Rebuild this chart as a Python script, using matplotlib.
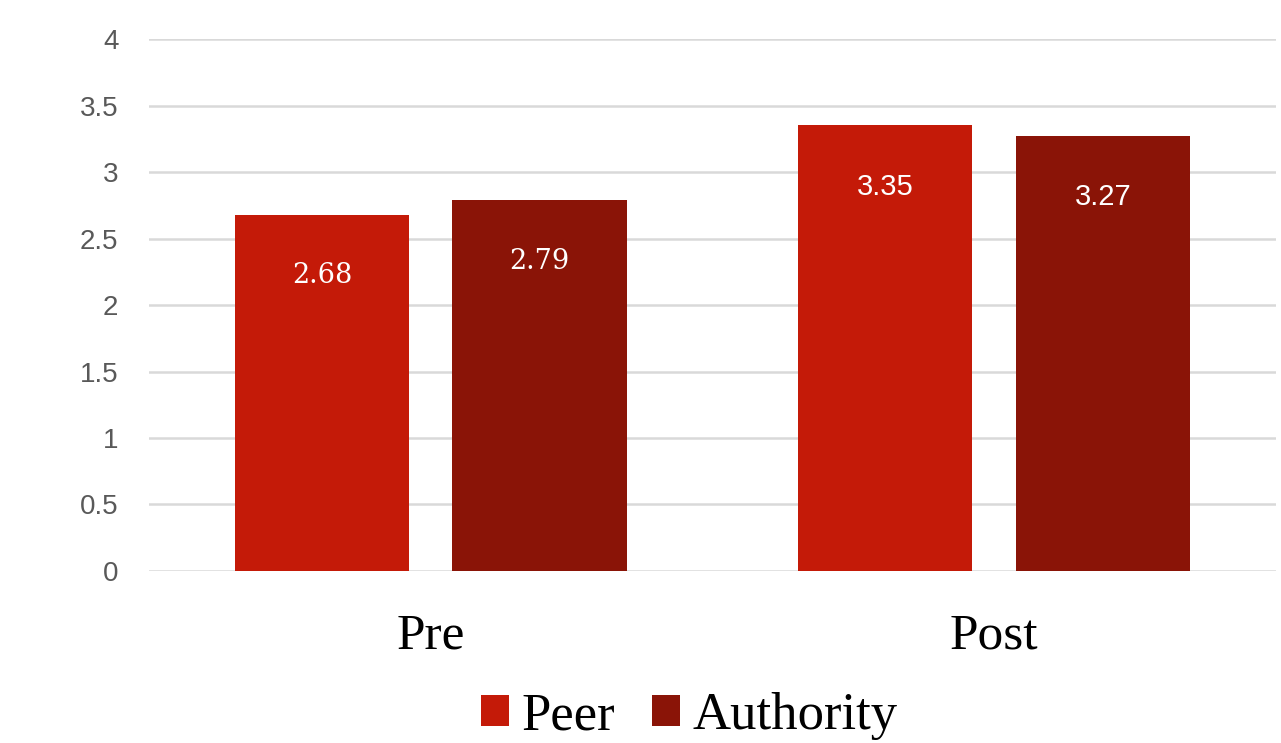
import matplotlib.pyplot as plt
import numpy as np
from matplotlib.patches import Patch

categories = ["Pre", "Post"]
series_names = ["Peer", "Authority"]
peer = [2.68, 3.35]
authority = [2.79, 3.27]
yticks = [0, 0.5, 1, 1.5, 2, 2.5, 3, 3.5, 4]
ytick_labels = ["0", "0.5", "1", "1.5", "2", "2.5", "3", "3.5", "4"]

colors = ["#C41A08", "#8A1407"]
# value labels: the "Pre" group is set in a serif face, "Post" in a sans face
label_fonts = [("DejaVu Serif", 19.5), ("Liberation Sans", 21)]

fig = plt.figure(figsize=(12.81, 7.43), dpi=100)
ax = fig.add_axes([0.1163, 0.2315, 0.8797, 0.716])

x = np.arange(len(categories))
width = 0.309
offset = 0.193

for vals, off, col in [(peer, -offset, colors[0]), (authority, offset, colors[1])]:
    bars = ax.bar(x + off, vals, width=width, color=col, zorder=3)
    for i, (b, v) in enumerate(zip(bars, vals)):
        fam, size = label_fonts[i]
        ax.annotate(f"{v:.2f}", (b.get_x() + b.get_width() / 2, v),
                    xytext=(0, -44), textcoords="offset points",
                    ha="center", va="center", color="white",
                    fontsize=size, family=fam, zorder=4)

ax.set_xlim(-0.5, 1.5)
ax.set_ylim(0, 4)
ax.set_yticks(yticks)
ax.set_yticklabels(ytick_labels, fontsize=20, family="Liberation Sans", color="#595959")
ax.yaxis.grid(True, color="#D9D9D9", linewidth=1.8, zorder=0)
ax.set_axisbelow(True)
ax.tick_params(axis="y", length=0, pad=22)
ax.tick_params(axis="x", length=0, pad=30)
ax.set_xticks(x)
ax.set_xticklabels(categories, fontsize=37, family="Liberation Serif", color="black")
for s in ax.spines.values():
    s.set_visible(False)

handles = [Patch(facecolor=c, edgecolor="none") for c in colors]
fig.legend(handles, series_names, loc="center", bbox_to_anchor=(0.538, 0.036),
           ncol=2, frameon=False, prop={"family": "Liberation Serif", "size": 38},
           handlelength=0.53, handleheight=0.53, handletextpad=0.23,
           columnspacing=0.7, borderpad=0, borderaxespad=0)

fig.savefig("out.png", dpi=100)
